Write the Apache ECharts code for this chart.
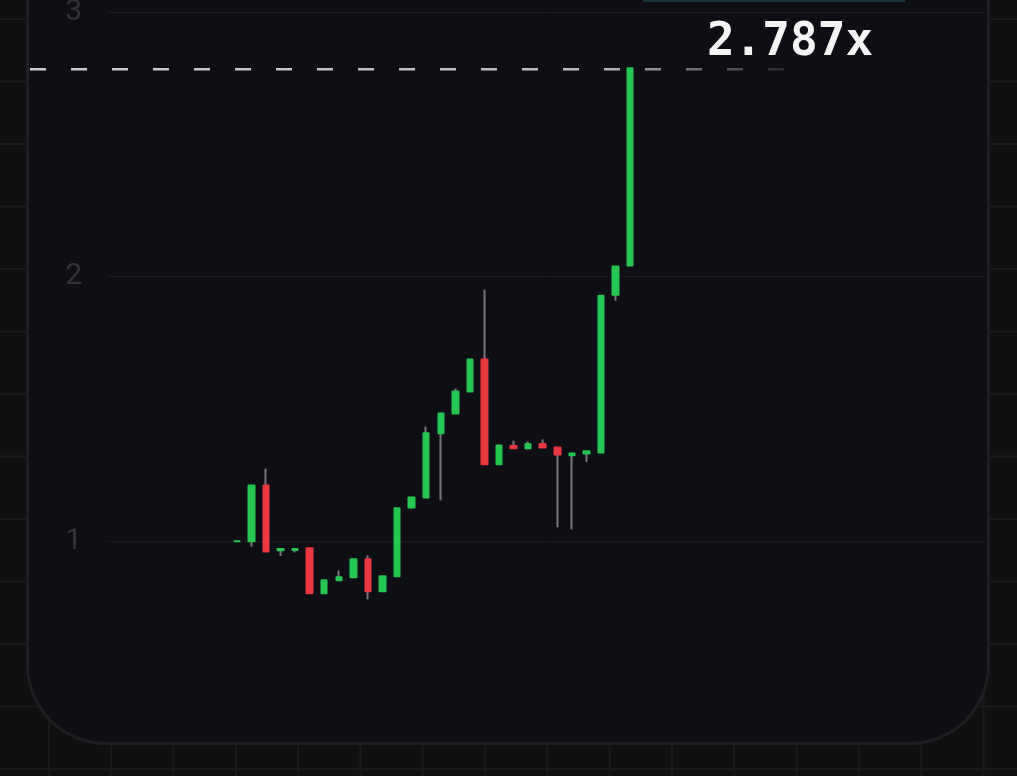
<!DOCTYPE html>
<html><head><meta charset="utf-8">
<script src="https://cdn.jsdelivr.net/npm/echarts@6/dist/echarts.min.js"></script>
<style>
html,body{margin:0;padding:0;width:1017px;height:776px;overflow:hidden;}
body{background-color:#101010;background-image:linear-gradient(to right,#1a1a1a 2px,transparent 2px),linear-gradient(to bottom,#1a1a1a 2px,transparent 2px);background-size:62.3px 62.5px;background-position:48px 18px;}
#panel{position:absolute;left:26px;top:-120px;width:964px;height:865px;box-sizing:border-box;border:3px solid #1e1e22;border-radius:80px;background:#0e0f14;}
#topbar{position:absolute;left:643px;top:0;width:262px;height:2px;background:#17343a;}
#chart{position:absolute;left:0;top:0;width:1017px;height:776px;}
</style></head>
<body><div id="panel"></div><div id="topbar"></div><div id="chart"></div>
<script>
// ---- data ----
const labels = ['1','2','3','4','5','6','7','8','9','10','11','12','13','14','15','16','17','18','19','20','21','22','23','24','25','26','27','28'];
const opens  = [1.000,1.000,1.211,0.966,0.967,0.974,0.804,0.853,0.864,0.932,0.811,0.868,1.128,1.166,1.408,1.483,1.566,1.687,1.291,1.360,1.352,1.368,1.355,1.325,1.332,1.336,1.932,2.042];
const closes = [1.000,1.211,0.962,0.971,0.971,0.804,0.853,0.864,0.932,0.811,0.868,1.125,1.166,1.408,1.483,1.566,1.687,1.291,1.362,1.352,1.368,1.355,1.328,1.332,1.340,1.928,2.038,2.787];
const lows   = [1.000,0.980,0.962,0.945,0.958,0.804,0.804,0.853,0.864,0.781,0.811,0.868,1.125,1.166,1.155,1.483,1.566,1.291,1.291,1.352,1.347,1.355,1.053,1.045,1.300,1.336,1.909,2.042];
const highs  = [1.000,1.211,1.275,0.971,0.971,0.974,0.853,0.890,0.932,0.947,0.868,1.125,1.166,1.434,1.483,1.577,1.687,1.951,1.362,1.380,1.377,1.385,1.355,1.332,1.340,1.928,2.038,2.787];
const yTicks = [1, 2, 3];

// ---- layout constants ----
const PAD_BEFORE = 8, PAD_AFTER = 24;
const GREEN = '#27c653', RED = '#eb3740', WICK = '#77777b';

const n = labels.length;
const xCats = [];
for (let i = 0; i < PAD_BEFORE; i++) xCats.push('');
labels.forEach(l => xCats.push(l));
for (let i = 0; i < PAD_AFTER; i++) xCats.push('');

const wickData = [], bodyData = [];
for (let i = 0; i < n; i++) {
  const x = PAD_BEFORE + i;
  wickData.push([x, opens[i], closes[i], lows[i], highs[i]]);
  bodyData.push([x, opens[i], closes[i], Math.min(opens[i], closes[i]), Math.max(opens[i], closes[i])]);
}

const chart = echarts.init(document.getElementById('chart'), null, {renderer: 'canvas'});
chart.setOption({
  animation: false,
  backgroundColor: 'transparent',
  grid: [
    {left: 108, right: 32, top: 12, bottom: -30, outerBoundsMode: 'none', containLabel: false},
    {left: 113, right: 30, top: 12, bottom: -30, outerBoundsMode: 'none', containLabel: false}
  ],
  xAxis: [
    {type: 'category', gridIndex: 0, data: ['a'], show: false},
    {type: 'category', gridIndex: 1, data: xCats, show: false}
  ],
  yAxis: [
    {type: 'value', gridIndex: 0, min: 0, max: 3, interval: 1,
     axisLine: {show: false}, axisTick: {show: false},
     axisLabel: {margin: 26, color: '#333439', fontSize: 30, fontFamily: 'Roboto',
       formatter: v => yTicks.indexOf(v) >= 0 ? String(v) : ''},
     splitLine: {lineStyle: {color: '#1a1b20', width: 1}}},
    {type: 'value', gridIndex: 1, min: 0, max: 3, show: false, splitLine: {show: false}}
  ],
  series: [
    {type: 'candlestick', xAxisIndex: 1, yAxisIndex: 1, data: wickData,
     encode: {x: 0, y: [1, 2, 3, 4]}, barWidth: 0.5, silent: true,
     itemStyle: {color: WICK, color0: WICK, borderColor: WICK, borderColor0: WICK, borderWidth: 2}},
    {type: 'candlestick', xAxisIndex: 1, yAxisIndex: 1, data: bodyData,
     encode: {x: 0, y: [1, 2, 3, 4]}, barWidth: 6, silent: true,
     itemStyle: {color: GREEN, color0: RED, borderColor: GREEN, borderColor0: RED, borderWidth: 2, borderJoin: 'round'}}
  ]
});

const lastClose = closes[n - 1];
const yPx = chart.convertToPixel({yAxisIndex: 1}, lastClose);
chart.setOption({
  graphic: [
    {type: 'line', silent: true, z: 1,
     shape: {x1: 30, y1: yPx + 1, x2: 790, y2: yPx + 1},
     style: {lineWidth: 2.5, lineDash: [16, 25],
       stroke: {type: 'linear', global: true, x: 30, y: 0, x2: 790, y2: 0,
         colorStops: [{offset: 0, color: 'rgba(205,205,205,1)'},
                      {offset: 0.75, color: 'rgba(205,205,205,0.9)'},
                      {offset: 1, color: 'rgba(205,205,205,0.12)'}]}}},
    {type: 'text', silent: true, z: 10, x: 790, y: yPx - 25,
     style: {text: lastClose.toFixed(3) + 'x', fill: '#f4f4f4',
       font: 'bold 46px "DejaVu Sans Mono"', align: 'center', verticalAlign: 'middle'}}
  ]
});
</script></body></html>
